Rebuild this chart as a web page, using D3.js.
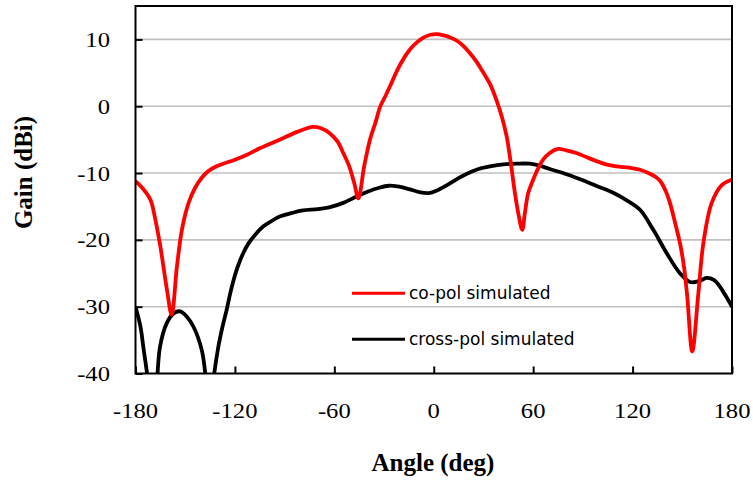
<!DOCTYPE html>
<html>
<head>
<meta charset="utf-8">
<script src="https://cdn.jsdelivr.net/npm/d3@7"></script>
<style>
  html, body { margin: 0; padding: 0; background: #fff; }
  svg { display: block; }
</style>
</head>
<body>
<svg id="chart" width="753" height="480"></svg>
<script>
// ---- Data ----
const xTicks = [-180, -120, -60, 0, 60, 120, 180];
const yTicks = [10, 0, -10, -20, -30, -40];
const seriesNames = ["co-pol simulated", "cross-pol simulated"];
const seriesColors = ["#ff0000", "#000000"];

// co-pol simulated: [angle (deg), gain (dBi)]
const coPol = [
  [-180,-11.2],[-176,-12.2],[-171,-14],[-168,-17],[-165,-21],[-161,-27.5],[-158.2,-31.2],
  [-155,-24],[-152,-18.5],[-148,-14.5],[-144,-12.2],[-140,-10.7],[-136,-9.7],[-132,-9.1],
  [-127,-8.6],[-120,-8.0],[-113,-7.3],[-105,-6.3],[-93,-5.0],[-82,-3.8],[-73,-3.1],
  [-68,-3.3],[-63,-4.0],[-58,-5.3],[-54.6,-7.0],[-51,-9],[-48,-11.5],[-45.5,-13.8],
  [-42,-9],[-38.5,-5.0],[-35,-2.3],[-32.4,-0.1],[-29,1.6],[-26,3.2],[-22,5.4],
  [-18,7.2],[-14,8.6],[-10,9.6],[-6,10.3],[-2,10.7],[2,10.8],[6,10.6],[10,10.3],
  [14,9.8],[18,9.0],[22,7.9],[26,6.6],[30,5.0],[34,3.3],[38,0.8],[41,-1.5],
  [44,-4.5],[46.5,-8.5],[49,-13],[51,-16],[53.4,-18.5],[55,-16],[57,-13],
  [60,-11],[63,-9.3],[66,-8.0],[70,-7.0],[75,-6.4],[80,-6.6],[86,-7.0],[92,-7.6],
  [98,-8.2],[104,-8.7],[110,-9.0],[118,-9.2],[124.5,-9.5],[130.5,-10.1],[134,-10.6],
  [137,-11.3],[140,-12.7],[142.6,-14.5],[145.5,-17.3],[148.6,-20.5],[151,-24],
  [153,-28.5],[156,-36.7],[159.7,-28],[162.7,-20.5],[167.7,-14.5],[173.8,-11.8],[180,-11]
];

// cross-pol simulated: [angle (deg), gain (dBi)]
const crossPol = [
  [-180,-30],[-177,-33],[-175.3,-36],[-172.5,-41],[-169.6,-48],[-167,-41],[-165.2,-36],
  [-161.2,-32.5],[-157,-31],[-153,-30.7],[-149,-31.5],[-145,-33],[-140,-36.5],
  [-137.5,-41],[-135.6,-48],[-133,-41],[-130,-36],[-127.5,-33],[-125,-30.5],
  [-123,-28.2],[-121,-26.2],[-118,-23.8],[-115,-22],[-112,-20.6],[-108,-19.3],
  [-103,-18],[-98,-17.2],[-93,-16.5],[-86,-16],[-79,-15.6],[-70,-15.4],[-62.6,-15.1],
  [-55,-14.5],[-46.5,-13.5],[-40,-12.8],[-33,-12.2],[-27,-11.9],[-22,-12.0],[-15,-12.4],
  [-8,-12.9],[-3,-13.0],[2,-12.6],[8,-11.8],[14,-10.9],[20,-10.1],[27,-9.4],
  [34,-9.0],[42,-8.7],[50,-8.6],[58,-8.6],[64,-8.9],[70,-9.4],[78,-10.0],
  [88,-10.9],[98,-11.9],[108,-12.9],[116,-14],[124.5,-15.5],[132.5,-18.5],
  [140.6,-22],[148.6,-25],[154.6,-26.3],[160,-26.2],[164.7,-25.7],[169,-26],
  [172.7,-27],[176,-28.3],[180,-30]
];

// ---- Layout ----
const svg = d3.select("#chart");
const plot = { left: 135.5, right: 732, top: 6, bottom: 373.5 };

const x = d3.scaleLinear().domain([-180, 180]).range([plot.left, plot.right]);
const y = d3.scaleLinear().domain([-40, 15]).range([plot.bottom, plot.top]);

svg.append("defs").append("clipPath").attr("id", "clip")
  .append("rect")
  .attr("x", plot.left).attr("y", plot.top)
  .attr("width", plot.right - plot.left).attr("height", plot.bottom - plot.top);

// gridlines
svg.append("g").selectAll("line")
  .data(yTicks.filter(d => d > -40))
  .join("line")
  .attr("x1", plot.left).attr("x2", plot.right)
  .attr("y1", d => y(d)).attr("y2", d => y(d))
  .attr("stroke", "#c0c0c0").attr("stroke-width", 1.6);

// y axis ticks (inward)
const yAxis = d3.axisLeft(y).tickValues(yTicks).tickSize(-7).tickFormat("");
svg.append("g").attr("transform", `translate(${plot.left},0)`).call(yAxis)
  .call(g => g.select(".domain").remove())
  .call(g => g.selectAll(".tick line").attr("stroke", "#000").attr("stroke-width", 2));

// x axis ticks (inward)
const xAxis = d3.axisBottom(x).tickValues(xTicks).tickSize(-7).tickFormat("");
svg.append("g").attr("transform", `translate(0,${plot.bottom})`).call(xAxis)
  .call(g => g.select(".domain").remove())
  .call(g => g.selectAll(".tick line").attr("stroke", "#000").attr("stroke-width", 2));

// series lines
const line = d3.line().x(d => x(d[0])).y(d => y(d[1])).curve(d3.curveCatmullRom.alpha(0.5));
const lines = svg.append("g").attr("clip-path", "url(#clip)");
lines.append("path").datum(crossPol)
  .attr("d", line).attr("fill", "none")
  .attr("stroke", seriesColors[1]).attr("stroke-width", 3.8)
  .attr("stroke-linejoin", "round");
lines.append("path").datum(coPol)
  .attr("d", line).attr("fill", "none")
  .attr("stroke", seriesColors[0]).attr("stroke-width", 3.8)
  .attr("stroke-linejoin", "round");

// plot frame
svg.append("rect")
  .attr("x", plot.left).attr("y", plot.top)
  .attr("width", plot.right - plot.left).attr("height", plot.bottom - plot.top)
  .attr("fill", "none").attr("stroke", "#000").attr("stroke-width", 2);

// tick labels
const tickFont = "'Liberation Serif', 'Times New Roman', serif";
svg.append("g").selectAll("text")
  .data(yTicks).join("text")
  .attr("transform", d => `translate(110,${y(d) + 7.5}) scale(1.12,1)`)
  .attr("text-anchor", "end")
  .attr("font-family", tickFont).attr("font-size", 22)
  .text(d => d);

svg.append("g").selectAll("text")
  .data(xTicks).join("text")
  .attr("transform", d => `translate(${x(d)},418) scale(1.12,1)`)
  .attr("text-anchor", "middle")
  .attr("font-family", tickFont).attr("font-size", 22)
  .text(d => d);

// axis titles
svg.append("text")
  .attr("x", 433).attr("y", 471)
  .attr("text-anchor", "middle")
  .attr("font-family", tickFont).attr("font-size", 25).attr("font-weight", "bold")
  .text("Angle (deg)");

svg.append("text")
  .attr("transform", "translate(32,172.5) rotate(-90)")
  .attr("text-anchor", "middle")
  .attr("font-family", tickFont).attr("font-size", 25).attr("font-weight", "bold")
  .text("Gain (dBi)");

// legend
const legendRows = [293.3, 339.3];
const legend = svg.append("g");
seriesNames.forEach((name, i) => {
  legend.append("line")
    .attr("x1", 352).attr("x2", 405)
    .attr("y1", legendRows[i]).attr("y2", legendRows[i])
    .attr("stroke", seriesColors[i]).attr("stroke-width", 3);
  legend.append("text")
    .attr("x", 409).attr("y", legendRows[i] + 5.5)
    .attr("font-family", "'DejaVu Sans', Verdana, sans-serif")
    .attr("font-size", 17)
    .attr("fill", "#000")
    .text(name);
});
</script>
</body>
</html>
